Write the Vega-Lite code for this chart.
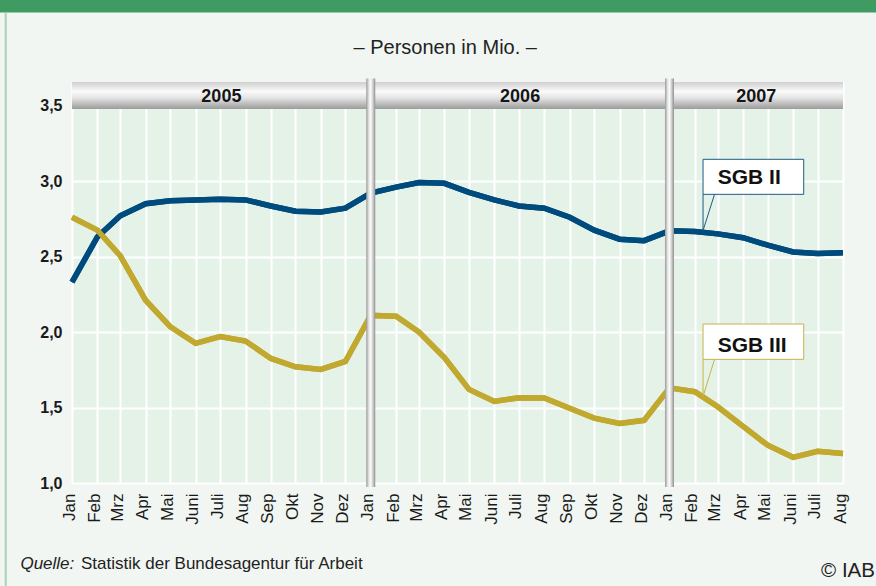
{
  "$schema": "https://vega.github.io/schema/vega-lite/v6.json",
  "width": 771,
  "height": 401,
  "autosize": {"type": "none"},
  "padding": {"left": 72, "top": 82, "right": 33, "bottom": 103},
  "background": "#f1f6f2",
  "config": {
    "font": "Liberation Sans",
    "view": {"fill": "#e5f2e8", "stroke": null},
    "scale": {"continuousPadding": 0},
    "axis": {"domain": false, "ticks": false, "gridColor": "#ffffff", "gridWidth": 2, "gridOpacity": 1, "labelColor": "#1a1a1a", "labelFont": "Liberation Sans", "title": null}
  },
  "datasets": {
    "series": [
      {"date": "2005-01-01T00:00", "series": "SGB II", "value": 2.33},
      {"date": "2005-02-01T00:00", "series": "SGB II", "value": 2.63},
      {"date": "2005-03-01T00:00", "series": "SGB II", "value": 2.77},
      {"date": "2005-04-01T00:00", "series": "SGB II", "value": 2.85},
      {"date": "2005-05-01T00:00", "series": "SGB II", "value": 2.87},
      {"date": "2005-06-01T00:00", "series": "SGB II", "value": 2.875},
      {"date": "2005-07-01T00:00", "series": "SGB II", "value": 2.88},
      {"date": "2005-08-01T00:00", "series": "SGB II", "value": 2.875},
      {"date": "2005-09-01T00:00", "series": "SGB II", "value": 2.835},
      {"date": "2005-10-01T00:00", "series": "SGB II", "value": 2.8},
      {"date": "2005-11-01T00:00", "series": "SGB II", "value": 2.795},
      {"date": "2005-12-01T00:00", "series": "SGB II", "value": 2.82},
      {"date": "2006-01-01T00:00", "series": "SGB II", "value": 2.92},
      {"date": "2006-02-01T00:00", "series": "SGB II", "value": 2.96},
      {"date": "2006-03-01T00:00", "series": "SGB II", "value": 2.99},
      {"date": "2006-04-01T00:00", "series": "SGB II", "value": 2.985},
      {"date": "2006-05-01T00:00", "series": "SGB II", "value": 2.925},
      {"date": "2006-06-01T00:00", "series": "SGB II", "value": 2.875},
      {"date": "2006-07-01T00:00", "series": "SGB II", "value": 2.835},
      {"date": "2006-08-01T00:00", "series": "SGB II", "value": 2.82},
      {"date": "2006-09-01T00:00", "series": "SGB II", "value": 2.76},
      {"date": "2006-10-01T00:00", "series": "SGB II", "value": 2.675},
      {"date": "2006-11-01T00:00", "series": "SGB II", "value": 2.615},
      {"date": "2006-12-01T00:00", "series": "SGB II", "value": 2.605},
      {"date": "2007-01-01T00:00", "series": "SGB II", "value": 2.67},
      {"date": "2007-02-01T00:00", "series": "SGB II", "value": 2.665},
      {"date": "2007-03-01T00:00", "series": "SGB II", "value": 2.65},
      {"date": "2007-04-01T00:00", "series": "SGB II", "value": 2.625},
      {"date": "2007-05-01T00:00", "series": "SGB II", "value": 2.575},
      {"date": "2007-06-01T00:00", "series": "SGB II", "value": 2.53},
      {"date": "2007-07-01T00:00", "series": "SGB II", "value": 2.52},
      {"date": "2007-08-01T00:00", "series": "SGB II", "value": 2.525},
      {"date": "2005-01-01T00:00", "series": "SGB III", "value": 2.76},
      {"date": "2005-02-01T00:00", "series": "SGB III", "value": 2.675},
      {"date": "2005-03-01T00:00", "series": "SGB III", "value": 2.505},
      {"date": "2005-04-01T00:00", "series": "SGB III", "value": 2.21},
      {"date": "2005-05-01T00:00", "series": "SGB III", "value": 2.035},
      {"date": "2005-06-01T00:00", "series": "SGB III", "value": 1.925},
      {"date": "2005-07-01T00:00", "series": "SGB III", "value": 1.97},
      {"date": "2005-08-01T00:00", "series": "SGB III", "value": 1.94},
      {"date": "2005-09-01T00:00", "series": "SGB III", "value": 1.825},
      {"date": "2005-10-01T00:00", "series": "SGB III", "value": 1.77},
      {"date": "2005-11-01T00:00", "series": "SGB III", "value": 1.752},
      {"date": "2005-12-01T00:00", "series": "SGB III", "value": 1.805},
      {"date": "2006-01-01T00:00", "series": "SGB III", "value": 2.11},
      {"date": "2006-02-01T00:00", "series": "SGB III", "value": 2.105},
      {"date": "2006-03-01T00:00", "series": "SGB III", "value": 2.0},
      {"date": "2006-04-01T00:00", "series": "SGB III", "value": 1.83},
      {"date": "2006-05-01T00:00", "series": "SGB III", "value": 1.62},
      {"date": "2006-06-01T00:00", "series": "SGB III", "value": 1.54},
      {"date": "2006-07-01T00:00", "series": "SGB III", "value": 1.565},
      {"date": "2006-08-01T00:00", "series": "SGB III", "value": 1.563},
      {"date": "2006-09-01T00:00", "series": "SGB III", "value": 1.495},
      {"date": "2006-10-01T00:00", "series": "SGB III", "value": 1.43},
      {"date": "2006-11-01T00:00", "series": "SGB III", "value": 1.395},
      {"date": "2006-12-01T00:00", "series": "SGB III", "value": 1.415},
      {"date": "2007-01-01T00:00", "series": "SGB III", "value": 1.63},
      {"date": "2007-02-01T00:00", "series": "SGB III", "value": 1.605},
      {"date": "2007-03-01T00:00", "series": "SGB III", "value": 1.505},
      {"date": "2007-04-01T00:00", "series": "SGB III", "value": 1.375},
      {"date": "2007-05-01T00:00", "series": "SGB III", "value": 1.25},
      {"date": "2007-06-01T00:00", "series": "SGB III", "value": 1.17},
      {"date": "2007-07-01T00:00", "series": "SGB III", "value": 1.21},
      {"date": "2007-08-01T00:00", "series": "SGB III", "value": 1.195}
    ],
    "years": [
      {"year": "2005", "start": "2005-01-01T00:00", "end": "2006-01-01T00:00"},
      {"year": "2006", "start": "2006-01-01T00:00", "end": "2007-01-01T00:00"},
      {"year": "2007", "start": "2007-01-01T00:00", "end": "2007-08-01T00:00"}
    ]
  },
  "layer": [
    {
      "data": {"name": "series"},
      "mark": {"type": "line", "strokeWidth": 5.5},
      "encoding": {
        "x": {"field": "date", "type": "temporal", "scale": {"domain": [{"year": 2005, "month": 1, "date": 1}, {"year": 2007, "month": 8, "date": 1}], "padding": 0},
          "axis": {"title": null, "grid": true, "tickCount": {"interval": "month", "step": 1}, "labelAngle": 270, "labelAlign": "right", "labelBaseline": "middle", "labelPadding": 10, "labelFontSize": 17, "labelOverlap": false, "labelFlush": false, "labelOffset": -3,
            "labelExpr": "['Jan','Feb','Mrz','Apr','Mai','Juni','Juli','Aug','Sep','Okt','Nov','Dez'][month(datum.value)]"}},
        "y": {"field": "value", "type": "quantitative", "scale": {"domain": [1, 3.656], "nice": false, "zero": false, "padding": 0},
          "axis": {"title": null, "grid": true, "values": [1, 1.5, 2, 2.5, 3, 3.5], "labelExpr": "replace(format(datum.value, '.1f'), '.', ',')", "labelFontSize": 16, "labelFontWeight": "bold", "labelPadding": 10}},
        "color": {"field": "series", "type": "nominal", "scale": {"domain": ["SGB II", "SGB III"], "range": ["#004b7d", "#c1a82e"]}, "legend": null}
      }
    },
    {
      "data": {"values": [{}]},
      "mark": {"type": "rect", "color": "#3f9b62", "clip": false},
      "encoding": {
        "x": {"datum": {"year": 2004, "month": 9, "date": 1}, "type": "temporal"},
        "x2": {"datum": {"year": 2007, "month": 11, "date": 1}},
        "y": {"datum": 4.4, "type": "quantitative"},
        "y2": {"datum": 4.117}
      }
    },
    {
      "data": {"values": [{}]},
      "mark": {"type": "rule", "color": "#a6d4b4", "strokeWidth": 2},
      "encoding": {
        "x": {"datum": {"year": 2004, "month": 10, "date": 12}, "type": "temporal"},
        "y": {"datum": 4.117, "type": "quantitative"},
        "y2": {"datum": 0.2}
      }
    },
    {
      "data": {"name": "years"},
      "mark": {"type": "rect", "fill": {"gradient": "linear", "x1": 0, "y1": 0, "x2": 0, "y2": 1, "stops": [{"offset": 0, "color": "#cfcfcf"}, {"offset": 0.35, "color": "#fbfbfb"}, {"offset": 0.6, "color": "#e2e2e2"}, {"offset": 1, "color": "#9b9b9b"}]}},
      "encoding": {
        "x": {"field": "start", "type": "temporal"},
        "x2": {"field": "end"},
        "y": {"datum": 3.477, "type": "quantitative"},
        "y2": {"datum": 3.656}
      }
    },
    {
      "data": {"name": "years"},
      "transform": [{"calculate": "(time(toDate(datum.start)) + time(toDate(datum.end))) / 2", "as": "mid"}],
      "mark": {"type": "text", "fontSize": 18, "fontWeight": "bold", "color": "#151515", "baseline": "middle", "align": "center"},
      "encoding": {
        "x": {"field": "mid", "type": "temporal"},
        "y": {"datum": 3.555, "type": "quantitative"},
        "text": {"field": "year"}
      }
    },
    {
      "data": {"name": "series"},
      "mark": {"type": "line", "strokeWidth": 5.5},
      "encoding": {
        "x": {"field": "date", "type": "temporal"},
        "y": {"field": "value", "type": "quantitative"},
        "color": {"field": "series", "type": "nominal", "legend": null}
      }
    },
    {
      "data": {"name": "years"},
      "transform": [{"filter": "datum.year != '2005'"}],
      "mark": {"type": "bar", "size": 9, "clip": false, "fill": {"gradient": "linear", "x1": 0, "y1": 0, "x2": 1, "y2": 0, "stops": [{"offset": 0, "color": "#9a9a9a"}, {"offset": 0.3, "color": "#e6e6e6"}, {"offset": 0.5, "color": "#fbfbfb"}, {"offset": 0.75, "color": "#cccccc"}, {"offset": 1, "color": "#8e8e8e"}]}},
      "encoding": {
        "x": {"field": "start", "type": "temporal"},
        "y": {"datum": 3.68, "type": "quantitative"},
        "y2": {"datum": 0.974}
      }
    },
    {
      "data": {"values": [{"label": "SGB II"}]},
      "mark": {"type": "rect", "fill": "#ffffff", "stroke": "#1d5a88", "strokeWidth": 1},
      "encoding": {
        "x": {"datum": {"year": 2007, "month": 2, "date": 11}, "type": "temporal"},
        "x2": {"datum": {"year": 2007, "month": 6, "date": 14}},
        "y": {"datum": 3.144, "type": "quantitative"},
        "y2": {"datum": 2.912}
      }
    },
    {
      "data": {"values": [{"label": "SGB II"}]},
      "mark": {"type": "rule", "stroke": "#1d5a88", "strokeWidth": 1},
      "encoding": {
        "x": {"datum": {"year": 2007, "month": 2, "date": 25}, "type": "temporal"},
        "x2": {"datum": {"year": 2007, "month": 2, "date": 11}},
        "y": {"datum": 2.912, "type": "quantitative"},
        "y2": {"datum": 2.672}
      }
    },
    {
      "data": {"values": [{"label": "SGB II"}]},
      "mark": {"type": "rule", "stroke": "#1d5a88", "strokeWidth": 1},
      "encoding": {
        "x": {"datum": {"year": 2007, "month": 2, "date": 11}, "type": "temporal"},
        "y": {"datum": 2.912, "type": "quantitative"},
        "y2": {"datum": 2.672}
      }
    },
    {
      "data": {"values": [{"label": "SGB II"}]},
      "mark": {"type": "text", "fontSize": 21, "fontWeight": "bold", "color": "#111111", "align": "left", "baseline": "alphabetic"},
      "encoding": {
        "x": {"datum": {"year": 2007, "month": 3, "date": 1}, "type": "temporal"},
        "y": {"datum": 2.978, "type": "quantitative"},
        "text": {"field": "label"}
      }
    },
    {
      "data": {"values": [{"label": "SGB III"}]},
      "mark": {"type": "rect", "fill": "#ffffff", "stroke": "#c9b24a", "strokeWidth": 1},
      "encoding": {
        "x": {"datum": {"year": 2007, "month": 2, "date": 11}, "type": "temporal"},
        "x2": {"datum": {"year": 2007, "month": 6, "date": 14}},
        "y": {"datum": 2.053, "type": "quantitative"},
        "y2": {"datum": 1.819}
      }
    },
    {
      "data": {"values": [{"label": "SGB III"}]},
      "mark": {"type": "rule", "stroke": "#c9b24a", "strokeWidth": 1},
      "encoding": {
        "x": {"datum": {"year": 2007, "month": 2, "date": 25}, "type": "temporal"},
        "x2": {"datum": {"year": 2007, "month": 2, "date": 11}},
        "y": {"datum": 1.819, "type": "quantitative"},
        "y2": {"datum": 1.572}
      }
    },
    {
      "data": {"values": [{"label": "SGB III"}]},
      "mark": {"type": "rule", "stroke": "#c9b24a", "strokeWidth": 1},
      "encoding": {
        "x": {"datum": {"year": 2007, "month": 2, "date": 11}, "type": "temporal"},
        "y": {"datum": 1.819, "type": "quantitative"},
        "y2": {"datum": 1.572}
      }
    },
    {
      "data": {"values": [{"label": "SGB III"}]},
      "mark": {"type": "text", "fontSize": 21, "fontWeight": "bold", "color": "#111111", "align": "left", "baseline": "alphabetic"},
      "encoding": {
        "x": {"datum": {"year": 2007, "month": 3, "date": 1}, "type": "temporal"},
        "y": {"datum": 1.870, "type": "quantitative"},
        "text": {"field": "label"}
      }
    },
    {
      "data": {"values": [{"label": "– Personen in Mio. –"}]},
      "mark": {"type": "text", "fontSize": 20, "color": "#222222", "align": "center", "baseline": "middle"},
      "encoding": {
        "x": {"datum": {"year": 2006, "month": 4, "date": 2}, "type": "temporal"},
        "y": {"datum": 3.88, "type": "quantitative"},
        "text": {"field": "label"}
      }
    },
    {
      "data": {"values": [{"label": "Quelle:"}]},
      "mark": {"type": "text", "fontSize": 17, "fontStyle": "italic", "color": "#222222", "align": "left", "baseline": "alphabetic"},
      "encoding": {
        "x": {"datum": {"year": 2004, "month": 10, "date": 30}, "type": "temporal"},
        "y": {"datum": 0.43, "type": "quantitative"},
        "text": {"field": "label"}
      }
    },
    {
      "data": {"values": [{"label": "Statistik der Bundesagentur für Arbeit"}]},
      "mark": {"type": "text", "fontSize": 17, "color": "#222222", "align": "left", "baseline": "alphabetic"},
      "encoding": {
        "x": {"datum": {"year": 2005, "month": 1, "date": 12}, "type": "temporal"},
        "y": {"datum": 0.43, "type": "quantitative"},
        "text": {"field": "label"}
      }
    },
    {
      "data": {"values": [{"label": "© IAB"}]},
      "mark": {"type": "text", "fontSize": 20.5, "color": "#222222", "align": "right", "baseline": "alphabetic"},
      "encoding": {
        "x": {"datum": {"year": 2007, "month": 9, "date": 9}, "type": "temporal"},
        "y": {"datum": 0.377, "type": "quantitative"},
        "text": {"field": "label"}
      }
    }
  ]
}
